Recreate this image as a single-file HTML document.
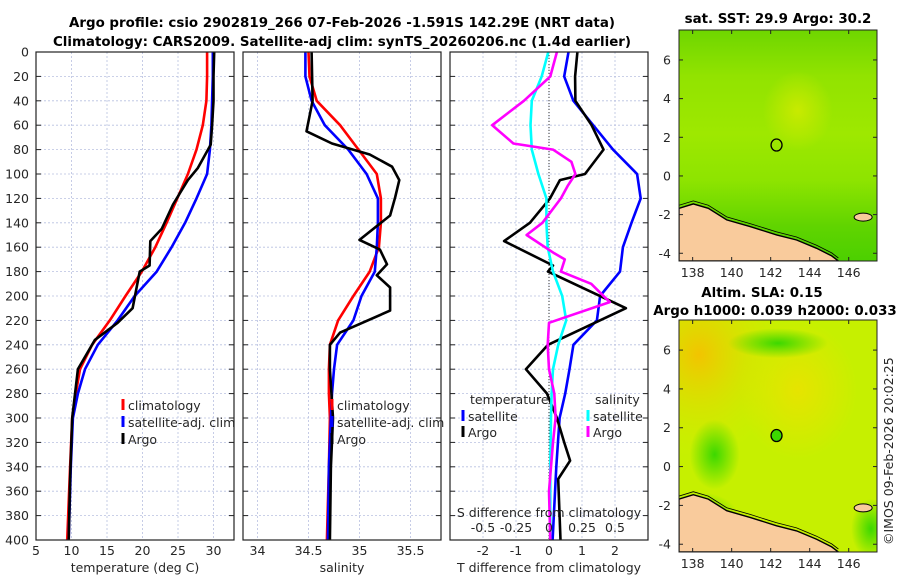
<!DOCTYPE html>
<html><head><meta charset="utf-8"><style>
body{margin:0;background:#fff;}
svg{display:block;font-family:"DejaVu Sans","Liberation Sans",sans-serif;}
.t{font-size:12.5px;fill:#262626;}
.b{font-size:13.4px;font-weight:bold;fill:#000;}
</style></head><body>
<svg id="c" width="900" height="580" viewBox="0 0 900 580">
<defs>
<clipPath id="cp1"><rect x="36" y="52" width="198" height="488"/></clipPath>
<clipPath id="cp2"><rect x="243" y="52" width="198" height="488"/></clipPath>
<clipPath id="cp3"><rect x="450" y="52" width="198" height="488"/></clipPath>
<clipPath id="mc1"><rect x="679" y="30" width="198" height="231"/></clipPath>
<clipPath id="mc2"><rect x="679" y="320" width="198" height="232"/></clipPath>
<linearGradient id="g1" x1="0" y1="0" x2="0" y2="1"><stop offset="0" stop-color="#6ed600"/><stop offset="0.2" stop-color="#92e300"/><stop offset="0.45" stop-color="#9ee800"/><stop offset="0.65" stop-color="#8ee400"/><stop offset="0.85" stop-color="#60d400"/><stop offset="1" stop-color="#4cd000"/></linearGradient>
<radialGradient id="y1" cx="0.5" cy="0.5" r="0.5"><stop offset="0" stop-color="#c8ea00"/><stop offset="1" stop-color="#c8ea00" stop-opacity="0"/></radialGradient>
<radialGradient id="o1" cx="0.1" cy="0.15" r="0.45"><stop offset="0" stop-color="#f2c400"/><stop offset="1" stop-color="#d6ec00" stop-opacity="0"/></radialGradient>
<radialGradient id="o2" cx="0.6" cy="0.3" r="0.3"><stop offset="0" stop-color="#e6e400"/><stop offset="1" stop-color="#e6e400" stop-opacity="0"/></radialGradient>
<radialGradient id="gr2" cx="0.5" cy="0.5" r="0.5"><stop offset="0" stop-color="#3cd800"/><stop offset="1" stop-color="#3cd800" stop-opacity="0"/></radialGradient>
</defs>
<text class="b" x="342" y="27" text-anchor="middle">Argo profile: csio 2902819_266 07-Feb-2026 -1.591S 142.29E (NRT data)</text>
<text class="b" x="342" y="46" text-anchor="middle">Climatology: CARS2009. Satellite-adj clim: synTS_20260206.nc (1.4d earlier)</text>
<g id="root"></g>
</svg>
<script>
// ---- data ----
const depthTicks=[0,20,40,60,80,100,120,140,160,180,200,220,240,260,280,300,320,340,360,380,400];
const tempTicks=[5,10,15,20,25,30];
const salTicks=[34,34.5,35,35.5];
const tdTicks=[-2,-1,0,1,2];
const sdTicks=[-0.5,-0.25,0,0.25,0.5];
const stdDepths=[0,20,40,60,80,100,120,140,160,180,200,220,240,260,280,300,340,400];
const tempClim=[29.1,29.1,29.0,28.5,27.6,26.4,24.9,23.4,21.8,19.9,17.6,15.4,12.9,11.2,10.6,10.1,9.8,9.4];
const tempSat=[29.9,29.9,29.8,29.7,29.5,29.1,27.6,26.0,24.1,22.0,18.9,16.5,13.7,11.9,10.9,10.2,9.9,9.6];
const argoTDepths=[0,20,40,60,76,95,105,125,145,155,175,180,210,222,236,260,300,350,400];
const tempArgo=[30.1,30.0,30.0,29.8,29.6,27.8,26.4,24.3,22.7,21.1,21.0,19.6,18.6,16.5,13.3,10.9,10.1,9.8,9.6];
const salClim=[34.50,34.51,34.58,34.81,34.99,35.17,35.21,35.21,35.19,35.10,34.94,34.79,34.71,34.70,34.70,34.71,34.70,34.68];
const salSat=[34.47,34.47,34.53,34.66,34.89,35.07,35.18,35.18,35.17,35.15,35.02,34.94,34.78,34.75,34.73,34.72,34.70,34.69];
const argoSDepths=[0,40,65,75,84,94,105,119,134,154,162,174,183,193,212,230,240,260,300,340,400];
const salArgo=[34.53,34.54,34.48,34.73,35.10,35.32,35.39,35.35,35.30,35.00,35.20,35.27,35.17,35.30,35.30,34.81,34.71,34.71,34.74,34.72,34.71];
const tdSat=[0.59,0.46,0.74,1.34,1.94,2.67,2.78,2.5,2.24,2.15,1.55,1.45,0.74,0.62,0.49,0.32,0.22,0.11];
const tdArgoDepths=[0,20,40,60,80,100,105,120,140,155,175,180,210,240,260,280,300,320,335,350,400];
const tdArgo=[0.86,0.79,0.8,1.29,1.65,1.09,0.33,0.03,-0.58,-1.36,0.12,-0.03,2.33,-0.03,-0.7,-0.06,0.24,0.46,0.64,0.28,0.35];
const sdSat=[-0.005,-0.055,-0.13,-0.14,-0.13,-0.08,-0.02,-0.02,-0.01,0.03,0.1,0.13,0.07,0.03,0.02,0.015,0.01,0.01];
const sdArgoDepths=[0,20,40,60,75,80,90,100,110,120,140,150,165,170,180,190,205,222,240,260,280,300,320,360,400];
const sdArgo=[0.06,0.01,-0.19,-0.43,-0.27,0.03,0.17,0.20,0.14,0.09,-0.05,-0.17,0.04,0.12,0.09,0.32,0.46,0,-0.01,0,0.04,0.05,0.03,0,0.01];
const latTicks=[-4,-2,0,2,4,6];
const lonTicks=[138,140,142,144,146];
const argoPos=[142.3,1.6];

// ---- helpers ----
const NS='http://www.w3.org/2000/svg';
const root=document.getElementById('root');
function mk(tag,attrs,parent){const e=document.createElementNS(NS,tag);for(const k in attrs)e.setAttribute(k,attrs[k]);(parent||root).appendChild(e);return e;}
const Y0=52,Y1=540;
const yD=d=>Y0+d*(Y1-Y0)/400;
const xT=t=>36+(t-5)*7.1;
const xS=s=>257.5+(s-34)*102;
const xTD=v=>549+v*33;
const xSD=v=>549+v*132;

function panel(x0,name,ticks,fx){
  const g=mk('g',{});
  
  
  ticks.forEach(v=>{const x=fx(v);mk('line',{x1:x,x2:x,y1:Y0,y2:Y1,stroke:'#b8c0e0','stroke-width':0.8,'stroke-dasharray':'2,2'},g);});
  depthTicks.forEach(d=>{const y=yD(d);mk('line',{x1:x0,x2:x0+198,y1:y,y2:y,stroke:'#b8c0e0','stroke-width':0.8,'stroke-dasharray':'2,2'},g);
    mk('line',{x1:x0,x2:x0+5,y1:y,y2:y,stroke:'#222'},g);mk('line',{x1:x0+193,x2:x0+198,y1:y,y2:y,stroke:'#222'},g);});
  return g;
}
function line(g,xs,ds,fx,col,name,clip){
  const p=mk('polyline',{points:xs.map((v,i)=>fx(v).toFixed(1)+','+yD(ds[i]).toFixed(1)).join(' '),fill:'none',stroke:col,'stroke-width':2.6,'stroke-linejoin':'round','clip-path':'url(#'+clip+')'},g);
  
  
}
function txt(s,x,y,attrs,name,parent){const t=mk('text',Object.assign({x:x,y:y,class:'t'},attrs||{}),parent);t.textContent=s;
  
  
  return t;}
function box(x0,g){mk('rect',{x:x0,y:Y0,width:198,height:Y1-Y0,fill:'none',stroke:'#222','stroke-width':1.2},g);}
function legItem(g,x,y,col,label){mk('line',{x1:x,x2:x,y1:y-11,y2:y,stroke:col,'stroke-width':3},g);txt(label,x+5,y,{'font-size':'13'},'legend-entry',g);}

// panel 1
const g1=panel(36,'temperature-panel',tempTicks,xT);
line(g1,tempClim,stdDepths,xT,'#ff0000','climatology-temp-line','cp1');
line(g1,tempSat,stdDepths,xT,'#0000ff','satellite-temp-line','cp1');
line(g1,tempArgo,argoTDepths,xT,'#000','argo-temp-line','cp1');
box(36,g1);
depthTicks.forEach(d=>txt(String(d),29,yD(d)+4.5,{'text-anchor':'end'},'y-tick-label',g1));
tempTicks.forEach(v=>txt(String(v),xT(v),555,{'text-anchor':'middle'},'x-tick-label',g1));
txt('temperature (deg C)',135,572,{'text-anchor':'middle'},'x-axis-title',g1);
legItem(g1,123,410,'#ff0000','climatology');
legItem(g1,123,427,'#0000ff','satellite-adj. clim');
legItem(g1,123,444,'#000','Argo');

// panel 2
const g2=panel(243,'salinity-panel',salTicks,xS);
line(g2,salClim,stdDepths,xS,'#ff0000','climatology-sal-line','cp2');
line(g2,salSat,stdDepths,xS,'#0000ff','satellite-sal-line','cp2');
line(g2,salArgo,argoSDepths,xS,'#000','argo-sal-line','cp2');
box(243,g2);
salTicks.forEach(v=>txt(String(v),xS(v),555,{'text-anchor':'middle'},'x-tick-label',g2));
txt('salinity',342,572,{'text-anchor':'middle'},'x-axis-title',g2);
legItem(g2,332,410,'#ff0000','climatology');
legItem(g2,332,427,'#0000ff','satellite-adj. clim');
legItem(g2,332,444,'#000','Argo');

// panel 3
const g3=panel(450,'difference-panel',tdTicks,xTD);
mk('line',{x1:549,x2:549,y1:Y0,y2:Y1,stroke:'#333','stroke-width':1,'stroke-dasharray':'1,2'},g3);
line(g3,tdSat,stdDepths,xTD,'#0000ff','satellite-tdiff-line','cp3');
line(g3,tdArgo,tdArgoDepths,xTD,'#000','argo-tdiff-line','cp3');
line(g3,sdSat,stdDepths,xSD,'#00ffff','satellite-sdiff-line','cp3');
line(g3,sdArgo,sdArgoDepths,xSD,'#ff00ff','argo-sdiff-line','cp3');
box(450,g3);
tdTicks.forEach(v=>txt(String(v),xTD(v),555,{'text-anchor':'middle'},'x-tick-label',g3));
txt('T difference from climatology',549,572,{'text-anchor':'middle'},'x-axis-title',g3);
txt('S difference from climatology',549,517,{'text-anchor':'middle'},'s-axis-title',g3);
sdTicks.forEach(v=>txt(String(v),xSD(v),532,{'text-anchor':'middle'},'s-tick-label',g3));
txt('temperature',470,404,{'font-size':'13'},'legend-title',g3);
txt('salinity',595,404,{'font-size':'13'},'legend-title',g3);
legItem(g3,463,421,'#0000ff','satellite');
legItem(g3,463,437,'#000','Argo');
legItem(g3,588,421,'#00ffff','satellite');
legItem(g3,588,437,'#ff00ff','Argo');

// maps
const landRel=[[0,0.772],[0.072,0.753],[0.148,0.772],[0.241,0.822],[0.359,0.851],[0.493,0.887],[0.594,0.909],[0.695,0.945],[0.771,0.978],[0.805,1],[0,1]];
function map(y0,h,name,clip,fills){
  const g=mk('g',{});
  
  
  const x0=679,w=198;
  const fx=lon=>x0+(lon-137.3)*w/10.15;
  const fy=lat=>y0+(7.55-lat)*h/11.95;
  const c=mk('g',{'clip-path':'url(#'+clip+')'},g);
  fills(c,x0,y0,w,h);
  const pts=landRel.map(p=>(x0+p[0]*w).toFixed(1)+','+(y0+p[1]*h).toFixed(1)).join(' ');
  mk('polygon',{points:pts+' '+x0+','+(y0+h),fill:'#f9cb9c',stroke:'#000','stroke-width':1.4},c);
  mk('polyline',{points:landRel.slice(0,10).map(p=>(x0+p[0]*w).toFixed(1)+','+(y0+p[1]*h-3).toFixed(1)).join(' '),fill:'none',stroke:'#000','stroke-width':0.8},c);
  mk('ellipse',{cx:x0+0.93*w,cy:y0+0.81*h,rx:9,ry:4,fill:'#f9cb9c',stroke:'#000','stroke-width':1},c);
  mk('rect',{x:x0,y:y0,width:w,height:h,fill:'none',stroke:'#222','stroke-width':1},g);
  latTicks.forEach(v=>{const y=fy(v);mk('line',{x1:x0,x2:x0+4,y1:y,y2:y,stroke:'#222'},g);mk('line',{x1:x0+w-4,x2:x0+w,y1:y,y2:y,stroke:'#222'},g);
    txt(String(v),671,y+4.5,{'text-anchor':'end','font-size':'13'},'lat-tick-label',g);});
  lonTicks.forEach(v=>{const x=fx(v);mk('line',{x1:x,x2:x,y1:y0+h-4,y2:y0+h,stroke:'#222'},g);mk('line',{x1:x,x2:x,y1:y0,y2:y0+4,stroke:'#222'},g);
    txt(String(v),x,y0+h+16,{'text-anchor':'middle','font-size':'13'},'lon-tick-label',g);});
  const m=mk('ellipse',{cx:fx(argoPos[0]),cy:fy(argoPos[1]),rx:5.5,ry:6,fill:name==='sla-map'?'#3cd800':'none',stroke:'#000','stroke-width':1.3},g);
  
  
}
map(30,231,'sst-map','mc1',(c,x,y,w,h)=>{
  mk('rect',{x:x,y:y,width:w,height:h,fill:'url(#g1)'},c);
  mk('ellipse',{cx:x+0.6*w,cy:y+0.35*h,rx:35,ry:40,fill:'url(#y1)'},c);
});
map(320,232,'sla-map','mc2',(c,x,y,w,h)=>{
  mk('rect',{x:x,y:y,width:w,height:h,fill:'#c6f000'},c);
  mk('rect',{x:x,y:y,width:w,height:h,fill:'url(#o1)'},c);
  mk('rect',{x:x,y:y,width:w,height:h,fill:'url(#o2)'},c);
  mk('ellipse',{cx:x+0.5*w,cy:y+0.1*h,rx:50,ry:15,fill:'url(#gr2)'},c);
  mk('ellipse',{cx:x+0.18*w,cy:y+0.58*h,rx:25,ry:35,fill:'url(#gr2)'},c);
  mk('ellipse',{cx:x+0.1*w,cy:y+0.85*h,rx:40,ry:25,fill:'url(#gr2)'},c);
  mk('ellipse',{cx:x+0.97*w,cy:y+0.9*h,rx:20,ry:30,fill:'url(#gr2)'},c);
});
const mt=[['sat. SST: 29.9 Argo: 30.2',778,23,'sst-map-title'],['Altim. SLA: 0.15',762,297,'sla-map-title'],['Argo h1000: 0.039 h2000: 0.033',775,315,'sla-map-subtitle']];
mt.forEach(a=>{const t=mk('text',{x:a[1],y:a[2],class:'b','text-anchor':'middle'});t.textContent=a[0];
  
  });
const cr=mk('text',{x:0,y:0,class:'t',transform:'translate(893,545) rotate(-90)','font-size':'13'});
cr.textContent='©IMOS 09-Feb-2026 20:02:25';


</script>
</body></html>
